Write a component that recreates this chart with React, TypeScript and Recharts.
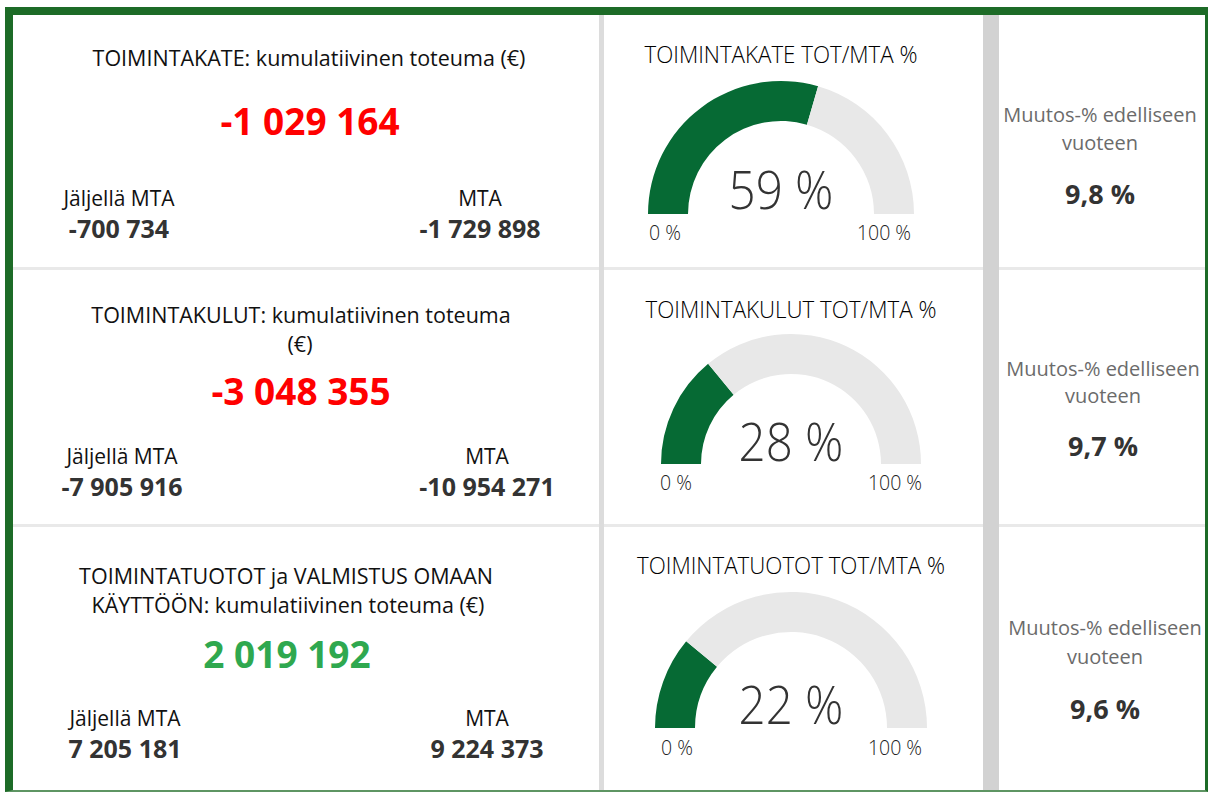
import React from "react";
import { PieChart, Pie, Cell } from "recharts";

// Kortit: otsikot ja luvut
const cardTitles = [
  ["TOIMINTAKATE: kumulatiivinen toteuma (€)"],
  ["TOIMINTAKULUT: kumulatiivinen toteuma", "(€)"],
  ["TOIMINTATUOTOT ja VALMISTUS OMAAN", "KÄYTTÖÖN: kumulatiivinen toteuma (€)"],
];
const actuals = [-1029164, -3048355, 2019192];
const remaining = [-700734, -7905916, 7205181];
const budgets = [-1729898, -10954271, 9224373];

// Mittarit
const gaugeTitles = [
  "TOIMINTAKATE TOT/MTA %",
  "TOIMINTAKULUT TOT/MTA %",
  "TOIMINTATUOTOT TOT/MTA %",
];
const gaugePercents = [59, 28, 22];

// Muutos-%
const changes = [9.8, 9.7, 9.6];

const FONT = "'Open Sans', 'Noto Sans', sans-serif";
const GREEN = "#066a34";
const TRACK = "#e8e8e8";

const fmt = (n: number) => {
  const s = Math.abs(n).toString().replace(/\B(?=(\d{3})+(?!\d))/g, " ");
  return (n < 0 ? "-" : "") + s;
};
const fmtPct = (n: number) => n.toFixed(1).replace(".", ",") + " %";

function T({
  x,
  y,
  size,
  weight = 400,
  color = "#252423",
  sx = 1,
  children,
}: any) {
  return (
    <div
      style={{
        position: "absolute",
        left: x,
        top: y,
        transform: `translate(-50%, -50%) scaleX(${sx})`,
        fontSize: size,
        fontWeight: weight,
        color,
        lineHeight: 1,
        whiteSpace: "nowrap",
        fontFamily: FONT,
      }}
    >
      {children}
    </div>
  );
}

// rivien asettelu (pikseleinä)
const rows = [
  { titleY: [58], bigY: 120, bigX: 310, labY: 198, valY: 228, lx: 119, rx: 480, tx: [309] },
  { titleY: [315, 344], bigY: 390, bigX: 301, labY: 456, valY: 486, lx: 122, rx: 487, tx: [301, 300] },
  { titleY: [576, 605], bigY: 653, bigX: 287, labY: 718, valY: 748, lx: 125, rx: 487, tx: [286, 288] },
];
const gauges = [
  { cx: 781, cy: 214, r: 133, titleY: 55, valY: 188, lblY: 233, l0: 665, l1: 884 },
  { cx: 791, cy: 464, r: 130, titleY: 310, valY: 440, lblY: 483, l0: 676, l1: 895 },
  { cx: 791, cy: 728, r: 136, titleY: 566, valY: 703, lblY: 748, l0: 677, l1: 895 },
];
const rightRows = [
  { x: 1100, y: [115, 143, 193] },
  { x: 1103, y: [369, 396, 445] },
  { x: 1105, y: [628, 657, 708] },
];

function Gauge({ i }: { i: number }) {
  const g = gauges[i];
  const p = gaugePercents[i];
  const data = [
    { name: "TOT", value: p },
    { name: "rest", value: 100 - p },
  ];
  const w = g.r * 2 + 20;
  const h = g.r + 10;
  return (
    <div style={{ position: "absolute", left: g.cx - g.r - 10, top: g.cy - g.r - 6 }}>
      <PieChart width={w} height={h} margin={{ top: 0, right: 0, bottom: 0, left: 0 }}>
        <Pie
          data={data}
          dataKey="value"
          cx={g.r + 10}
          cy={g.r + 6}
          startAngle={180}
          endAngle={0}
          innerRadius={g.r - 40}
          outerRadius={g.r}
          stroke="none"
          isAnimationActive={false}
        >
          <Cell fill={GREEN} />
          <Cell fill={TRACK} />
        </Pie>
      </PieChart>
    </div>
  );
}

export default function App() {
  return (
    <div
      style={{
        position: "absolute",
        left: 0,
        top: 0,
        width: 1208,
        height: 792,
        background: "#fff",
        overflow: "hidden",
        fontFamily: FONT,
      }}
    >
      {/* vihreä kehys */}
      <div
        style={{
          position: "absolute",
          left: 5,
          top: 7,
          width: 1203,
          height: 785,
          boxSizing: "border-box",
          borderLeft: "8px solid #1d6b27",
          borderTop: "8px solid #1d6b27",
          borderRight: "3px solid #1d6b27",
          borderBottom: "2px solid #5e9563",
        }}
      />
      {/* erottimet */}
      <div style={{ position: "absolute", left: 13, top: 267, width: 1192, height: 3, background: "#e9e9e9" }} />
      <div style={{ position: "absolute", left: 13, top: 524, width: 1192, height: 3, background: "#e9e9e9" }} />
      <div style={{ position: "absolute", left: 599, top: 15, width: 5, height: 775, background: "#dcdcdc" }} />
      <div style={{ position: "absolute", left: 983, top: 15, width: 16, height: 775, background: "#d2d2d2" }} />

      {rows.map((r, i) => (
        <React.Fragment key={i}>
          {cardTitles[i].map((t, j) => (
            <T key={j} x={r.tx[j]} y={r.titleY[j]} size={21.5} color="#111">
              {t}
            </T>
          ))}
          <T x={r.bigX} y={r.bigY} size={37} weight={700} color={actuals[i] < 0 ? "#ff0000" : "#2fa84f"}>
            {fmt(actuals[i])}
          </T>
          <T x={r.lx} y={r.labY} size={21} color="#111">
            Jäljellä MTA
          </T>
          <T x={r.lx} y={r.valY} size={25} weight={700} color="#333">
            {fmt(remaining[i])}
          </T>
          <T x={r.rx} y={r.labY} size={21} color="#111">
            MTA
          </T>
          <T x={r.rx} y={r.valY} size={25} weight={700} color="#333">
            {fmt(budgets[i])}
          </T>
        </React.Fragment>
      ))}

      {gauges.map((g, i) => (
        <React.Fragment key={i}>
          <T x={g.cx} y={g.titleY} size={23.5} weight={300} sx={0.95} color="#000">
            {gaugeTitles[i]}
          </T>
          <Gauge i={i} />
          <T x={g.cx} y={g.valY} size={54} weight={300} sx={0.88} color="#333">
            {gaugePercents[i]} %
          </T>
          <T x={g.l0} y={g.lblY} size={19.5} weight={300} color="#222">
            0 %
          </T>
          <T x={g.l1} y={g.lblY} size={19.5} weight={300} color="#222">
            100 %
          </T>
        </React.Fragment>
      ))}

      {rightRows.map((r, i) => (
        <React.Fragment key={i}>
          <T x={r.x} y={r.y[0]} size={20} color="#6b6b6b">
            Muutos-% edelliseen
          </T>
          <T x={r.x} y={r.y[1]} size={20} color="#6b6b6b">
            vuoteen
          </T>
          <T x={r.x} y={r.y[2]} size={27} weight={700} color="#333">
            {fmtPct(changes[i])}
          </T>
        </React.Fragment>
      ))}
    </div>
  );
}
